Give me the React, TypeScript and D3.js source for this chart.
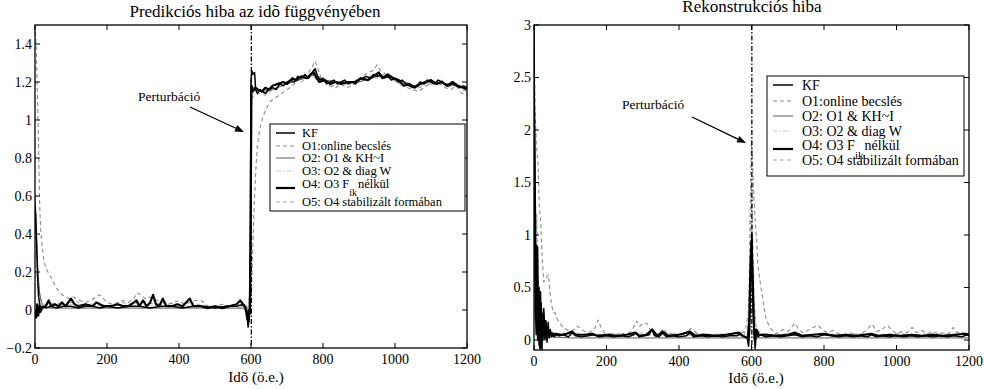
import React from "react";
import * as d3 from "d3";

type P = [number, number];

// ---------- Left panel: prediction error ----------
const leftKF: P[] = [[0,0.55],[2,0.5],[4,0.38],[6,0.25],[8,0.14],[10,0.07],[13,0.03],[16,0.01],[20,0.02],[30,0.01],[45,0.02],[60,0.01],[80,0.02],[100,0.02],[120,0.01],[140,0.02],[160,0.02],[180,0.01],[200,0.02],[230,0.01],[260,0.02],[290,0.02],[320,0.01],[350,0.02],[380,0.02],[410,0.01],[440,0.02],[470,0.02],[500,0.01],[530,0.02],[560,0.02],[580,0.03],[588,0.0],[592,-0.09],[595,-0.05],[598,0.3],[600,1.2],[602,1.26],[606,1.24],[610,1.25],[613,1.16],[618,1.14],[625,1.16],[632,1.15],[640,1.14],[650,1.16],[660,1.17],[670,1.16],[680,1.19],[690,1.18],[700,1.2],[710,1.21],[720,1.2],[730,1.23],[740,1.22],[750,1.24],[760,1.22],[770,1.25],[778,1.27],[785,1.23],[792,1.21],[800,1.22],[810,1.19],[820,1.2],[830,1.21],[840,1.19],[850,1.2],[860,1.21],[870,1.19],[880,1.2],[890,1.19],[900,1.21],[910,1.22],[920,1.23],[930,1.22],[940,1.24],[950,1.23],[960,1.24],[970,1.22],[980,1.23],[990,1.21],[1000,1.22],[1010,1.2],[1020,1.21],[1030,1.19],[1040,1.18],[1050,1.17],[1060,1.18],[1070,1.2],[1080,1.19],[1090,1.21],[1100,1.2],[1110,1.19],[1120,1.21],[1130,1.2],[1140,1.19],[1150,1.18],[1160,1.19],[1170,1.18],[1180,1.17],[1190,1.18],[1200,1.17]];
const leftO1: P[] = [[0,1.5],[3,1.4],[6,1.2],[9,0.95],[11,0.75],[13,0.55],[16,0.42],[20,0.33],[25,0.26],[30,0.22],[36,0.2],[42,0.18],[50,0.15],[58,0.12],[66,0.1],[75,0.08],[85,0.07],[95,0.06],[105,0.07],[115,0.06],[125,0.05],[140,0.04],[155,0.05],[170,0.07],[180,0.08],[190,0.06],[200,0.04],[215,0.03],[230,0.04],[245,0.05],[260,0.04],[275,0.06],[283,0.09],[295,0.08],[305,0.06],[315,0.07],[328,0.06],[340,0.05],[355,0.04],[370,0.03],[385,0.04],[400,0.05],[415,0.03],[430,0.04],[445,0.05],[460,0.05],[470,0.04],[480,0.02],[500,0.02],[520,0.03],[540,0.02],[560,0.03],[575,0.02],[585,0.03],[592,0.0],[598,0.01],[601,0.08],[604,0.25],[607,0.45],[610,0.6],[614,0.76],[618,0.87],[624,0.95],[632,1.01],[642,1.06],[655,1.1],[670,1.12],[685,1.14],[700,1.16],[715,1.18],[730,1.21],[745,1.22],[760,1.25],[770,1.28],[778,1.31],[786,1.27],[795,1.22],[805,1.2],[820,1.18],[835,1.17],[850,1.19],[865,1.17],[880,1.18],[895,1.2],[910,1.23],[925,1.25],[940,1.26],[950,1.29],[960,1.26],[975,1.24],[990,1.23],[1005,1.2],[1020,1.18],[1035,1.17],[1050,1.16],[1065,1.15],[1080,1.17],[1095,1.19],[1110,1.2],[1125,1.19],[1140,1.17],[1155,1.16],[1170,1.18],[1185,1.14],[1200,1.13]];
const leftO2: P[] = [[0,0.6],[3,0.45],[6,0.3],[9,0.18],[13,0.09],[18,0.04],[25,0.02],[40,0.01],[100,0.01],[200,0.01],[300,0.01],[400,0.01],[500,0.01],[580,0.01],[590,-0.02],[595,-0.06],[598,0.2],[600,1.0],[603,1.18],[610,1.16],[630,1.15],[660,1.16],[700,1.19],[750,1.22],[780,1.24],[800,1.21],[850,1.2],[900,1.2],[950,1.23],[1000,1.22],[1050,1.18],[1100,1.2],[1150,1.19],[1200,1.17]];
const leftO3: P[] = [[0,0.3],[5,0.15],[10,0.06],[20,0.02],[50,0.02],[100,0.03],[150,0.02],[200,0.02],[250,0.03],[300,0.02],[350,0.03],[400,0.02],[450,0.02],[500,0.02],[550,0.02],[590,0.0],[598,0.1],[602,1.1],[610,1.15],[650,1.16],[700,1.19],[750,1.23],[800,1.22],[850,1.19],[900,1.21],[950,1.24],[1000,1.21],[1050,1.17],[1100,1.19],[1150,1.18],[1200,1.16]];
const leftO4: P[] = [[0,0.0],[3,-0.04],[6,0.03],[9,-0.03],[12,0.02],[15,-0.01],[20,0.01],[30,0.02],[38,0.05],[45,0.02],[55,0.03],[65,0.02],[75,0.04],[85,0.02],[100,0.06],[110,0.03],[120,0.02],[140,0.03],[160,0.02],[170,0.04],[180,0.03],[190,0.02],[210,0.02],[230,0.03],[245,0.02],[260,0.02],[275,0.04],[282,0.05],[290,0.02],[300,0.05],[310,0.02],[320,0.04],[328,0.08],[336,0.03],[345,0.02],[355,0.06],[365,0.02],[380,0.02],[395,0.03],[410,0.02],[430,0.06],[440,0.02],[460,0.02],[480,0.01],[500,0.02],[520,0.01],[540,0.02],[560,0.03],[570,0.05],[578,0.03],[585,0.01],[590,-0.05],[594,0.0],[597,-0.02],[599,0.4],[601,1.18],[605,1.15],[612,1.17],[620,1.16],[630,1.15],[640,1.17],[650,1.16],[660,1.18],[675,1.19],[690,1.2],[700,1.19],[715,1.22],[725,1.21],[740,1.23],[755,1.22],[765,1.24],[775,1.25],[782,1.22],[790,1.2],[805,1.21],[820,1.19],[835,1.2],[850,1.19],[870,1.2],[890,1.2],[905,1.22],[925,1.21],[940,1.23],[955,1.25],[965,1.22],[980,1.24],[995,1.22],[1010,1.21],[1025,1.18],[1040,1.19],[1055,1.17],[1070,1.19],[1085,1.2],[1100,1.21],[1115,1.19],[1130,1.2],[1145,1.18],[1160,1.2],[1175,1.18],[1190,1.17],[1200,1.16]];
const leftO5: P[] = [[0,0.5],[4,0.3],[8,0.15],[14,0.06],[22,0.03],[40,0.03],[60,0.04],[80,0.02],[110,0.05],[140,0.02],[170,0.04],[200,0.02],[240,0.04],[270,0.03],[300,0.05],[330,0.03],[360,0.04],[400,0.03],[430,0.04],[470,0.02],[520,0.02],[560,0.03],[585,0.02],[592,-0.04],[597,0.0],[600,0.6],[603,1.12],[610,1.13],[625,1.14],[640,1.13],[660,1.16],[680,1.18],[700,1.19],[720,1.21],[740,1.2],[760,1.23],[775,1.24],[790,1.22],[810,1.2],[830,1.18],[850,1.2],[870,1.18],[890,1.21],[910,1.21],[930,1.23],[950,1.22],[970,1.24],[990,1.22],[1010,1.19],[1030,1.2],[1050,1.18],[1070,1.17],[1090,1.2],[1110,1.18],[1130,1.21],[1150,1.17],[1170,1.19],[1185,1.16],[1200,1.15]];

// ---------- Right panel: reconstruction error ----------
const rightKF: P[] = [[0,3.0],[2,1.6],[4,0.3],[6,0.05],[8,0.4],[10,0.88],[12,0.2],[14,-0.05],[16,0.3],[18,0.46],[20,0.05],[22,-0.1],[24,0.2],[27,0.3],[30,0.0],[33,0.15],[36,-0.02],[39,0.17],[42,0.02],[45,0.1],[48,0.03],[52,0.07],[56,0.03],[60,0.05],[70,0.04],[80,0.05],[95,0.03],[105,0.07],[115,0.04],[130,0.03],[150,0.04],[165,0.05],[180,0.03],[200,0.04],[220,0.03],[240,0.04],[260,0.03],[275,0.05],[282,0.07],[290,0.03],[305,0.04],[318,0.05],[325,0.1],[333,0.04],[345,0.03],[355,0.07],[365,0.03],[380,0.04],[400,0.03],[420,0.04],[430,0.07],[440,0.03],[460,0.04],[480,0.03],[500,0.04],[520,0.03],[540,0.04],[560,0.04],[570,0.06],[580,0.03],[588,0.02],[592,-0.06],[595,0.1],[598,0.6],[601,1.02],[604,0.5],[607,0.1],[610,-0.08],[614,0.08],[618,0.03],[625,0.05],[640,0.03],[660,0.04],[680,0.03],[700,0.04],[720,0.05],[740,0.03],[760,0.04],[780,0.03],[800,0.05],[820,0.04],[840,0.03],[860,0.04],[880,0.03],[900,0.04],[920,0.03],[930,0.05],[945,0.03],[960,0.04],[980,0.03],[1000,0.04],[1020,0.03],[1040,0.04],[1060,0.03],[1080,0.04],[1100,0.03],[1120,0.04],[1140,0.03],[1160,0.04],[1180,0.03],[1195,0.05],[1200,0.04]];
const rightO1: P[] = [[0,2.9],[3,2.2],[6,1.9],[9,1.75],[11,1.7],[13,1.45],[15,1.25],[18,1.16],[21,0.9],[24,0.7],[27,0.55],[31,0.58],[35,0.6],[40,0.62],[44,0.45],[48,0.35],[53,0.26],[58,0.26],[64,0.2],[72,0.16],[80,0.12],[90,0.1],[100,0.08],[110,0.1],[120,0.13],[130,0.11],[140,0.08],[150,0.07],[165,0.09],[177,0.19],[185,0.12],[195,0.07],[210,0.06],[225,0.05],[240,0.07],[255,0.05],[270,0.09],[283,0.18],[292,0.13],[300,0.16],[311,0.16],[320,0.1],[330,0.07],[345,0.06],[357,0.11],[365,0.07],[380,0.06],[395,0.05],[410,0.07],[420,0.06],[432,0.11],[440,0.09],[455,0.05],[470,0.06],[490,0.05],[510,0.06],[530,0.05],[550,0.07],[565,0.06],[580,0.08],[590,0.05],[594,0.6],[597,1.4],[600,1.9],[603,1.7],[606,1.4],[610,1.15],[614,0.95],[618,0.7],[622,0.6],[626,0.5],[630,0.42],[635,0.3],[640,0.2],[648,0.14],[655,0.1],[665,0.06],[675,0.07],[687,0.1],[700,0.08],[710,0.12],[720,0.16],[730,0.1],[742,0.07],[755,0.09],[770,0.12],[784,0.14],[795,0.1],[810,0.07],[825,0.09],[840,0.06],[855,0.05],[870,0.07],[885,0.06],[900,0.05],[915,0.09],[933,0.15],[945,0.08],[960,0.1],[975,0.14],[988,0.09],[1000,0.06],[1015,0.08],[1030,0.07],[1043,0.12],[1055,0.07],[1070,0.09],[1085,0.06],[1100,0.08],[1115,0.06],[1130,0.07],[1145,0.06],[1156,0.12],[1168,0.07],[1180,0.08],[1192,0.05],[1200,0.07]];
const rightO2: P[] = [[0,2.8],[3,1.0],[6,0.3],[10,0.6],[14,0.1],[18,0.3],[22,0.05],[28,0.12],[35,0.03],[45,0.03],[100,0.02],[200,0.02],[300,0.02],[400,0.02],[500,0.02],[590,0.02],[596,0.3],[600,0.85],[604,0.3],[608,0.02],[640,0.02],[800,0.02],[1000,0.02],[1200,0.02]];
const rightO3: P[] = [[0,2.5],[4,1.2],[8,0.5],[14,0.2],[22,0.08],[35,0.05],[60,0.04],[120,0.05],[200,0.04],[300,0.05],[400,0.04],[500,0.05],[590,0.04],[596,0.5],[600,1.3],[605,0.6],[612,0.15],[625,0.06],[700,0.05],[800,0.05],[900,0.04],[1000,0.05],[1100,0.04],[1200,0.05]];
const rightO4: P[] = [[0,2.2],[3,1.2],[5,0.2],[7,0.9],[9,0.3],[11,0.0],[13,0.5],[15,0.1],[17,-0.08],[19,0.35],[21,0.1],[24,0.0],[26,0.25],[29,0.05],[32,0.18],[35,0.02],[38,0.12],[41,0.04],[44,0.08],[50,0.04],[60,0.06],[75,0.05],[90,0.06],[105,0.08],[115,0.05],[140,0.05],[160,0.06],[175,0.04],[200,0.05],[230,0.04],[255,0.05],[280,0.07],[290,0.04],[310,0.05],[326,0.1],[340,0.04],[355,0.08],[370,0.04],[400,0.05],[430,0.08],[445,0.04],[470,0.05],[500,0.04],[530,0.05],[565,0.07],[575,0.04],[590,0.02],[594,0.2],[597,0.7],[600,0.95],[603,0.6],[606,0.2],[609,0.0],[613,0.1],[620,0.05],[640,0.05],[670,0.04],[700,0.05],[720,0.07],[740,0.04],[770,0.05],[800,0.06],[830,0.04],[860,0.05],[890,0.04],[930,0.06],[950,0.04],[980,0.05],[1010,0.04],[1040,0.05],[1070,0.04],[1100,0.05],[1130,0.04],[1160,0.05],[1190,0.06],[1200,0.05]];
const rightO5: P[] = [[0,1.5],[4,0.8],[8,1.2],[12,0.5],[16,0.3],[20,0.2],[25,0.12],[32,0.08],[40,0.06],[60,0.05],[90,0.06],[110,0.07],[130,0.05],[160,0.06],[190,0.05],[220,0.06],[260,0.05],[300,0.07],[340,0.05],[380,0.06],[420,0.05],[460,0.06],[500,0.05],[540,0.06],[580,0.05],[594,0.3],[598,1.2],[601,1.5],[604,0.9],[608,0.3],[614,0.1],[625,0.06],[660,0.05],[700,0.06],[750,0.05],[800,0.06],[850,0.05],[900,0.06],[950,0.05],[1000,0.06],[1050,0.05],[1100,0.06],[1150,0.05],[1200,0.06]];

const xTicks = [0, 200, 400, 600, 800, 1000, 1200];
const leftYTicks = [-0.2, 0, 0.2, 0.4, 0.6, 0.8, 1, 1.2, 1.4];
const rightYTicks = [0, 0.5, 1, 1.5, 2, 2.5, 3];
const legendLabels = ["KF", "O1:online becslés", "O2: O1 & KH~I", "O3: O2 & diag W", "O4: O3 F", "O5: O4 stabilizált formában"];
const perturbTime = 601;

const FONT = "Liberation Serif, Times New Roman, DejaVu Serif, serif";

type Style = { stroke: string; width: number; dash?: string };
const styles: Style[] = [
  { stroke: "#000", width: 1.5 },
  { stroke: "#8c8c8c", width: 1.1, dash: "4,3" },
  { stroke: "#333", width: 0.8 },
  { stroke: "#c4c4c4", width: 0.9, dash: "5,2,1,2" },
  { stroke: "#000", width: 2.2 },
  { stroke: "#a8a8a8", width: 1.1, dash: "4,3" },
];
const drawOrder = [3, 5, 1, 2, 4, 0];

type PanelProps = {
  id: string;
  x0: number; x1: number; y0: number; y1: number;
  yDomain: [number, number];
  yTicks: number[];
  series: P[][];
  title: string; titleX: number; titleY: number;
  xLabelX: number; xLabelY: number;
  legend: { x: number; y: number; w: number; h: number; rows: number[]; fs: number; lx0: number; lx1: number; tx: number; subDy: number };
  annot: { tx: number; ty: number; fs: number; ax0: number; ay0: number; ax1: number; ay1: number };
};

function fmt(v: number) {
  const s = String(Math.round(v * 10) / 10);
  return s.replace("-", "\u2212");
}

function Panel(p: PanelProps) {
  const x = d3.scaleLinear().domain([0, 1200]).range([p.x0, p.x1]);
  const y = d3.scaleLinear().domain(p.yDomain).range([p.y1, p.y0]);
  const line = d3.line<P>().x((d) => x(d[0])).y((d) => y(d[1]));
  const tl = 5;
  const lg = p.legend;
  const a = p.annot;
  const ang = Math.atan2(a.ay1 - a.ay0, a.ax1 - a.ax0);
  const hl = 9, hw = 3.5;
  const hx = a.ax1 - hl * Math.cos(ang), hy = a.ay1 - hl * Math.sin(ang);
  const head = `${a.ax1},${a.ay1} ${hx - hw * Math.sin(ang)},${hy + hw * Math.cos(ang)} ${hx + hw * Math.sin(ang)},${hy - hw * Math.cos(ang)}`;
  const tStyle = { fontFamily: FONT };
  return (
    <g style={tStyle}>
      <defs>
        <clipPath id={p.id}>
          <rect x={p.x0} y={p.y0} width={p.x1 - p.x0} height={p.y1 - p.y0} />
        </clipPath>
      </defs>
      <text x={p.titleX} y={p.titleY} fontSize={17} textAnchor="middle" style={tStyle}>{p.title}</text>
      <g clipPath={`url(#${p.id})`}>
        {drawOrder.map((i) => (
          <path key={i} d={line(p.series[i]) || ""} fill="none" stroke={styles[i].stroke}
            strokeWidth={styles[i].width} strokeDasharray={styles[i].dash} strokeLinejoin="round" />
        ))}
      </g>
      <line x1={x(perturbTime)} x2={x(perturbTime)} y1={p.y0} y2={p.y1} stroke="#000" strokeWidth={1.3} strokeDasharray="5,2,1.5,2" />
      {xTicks.map((t) => (
        <g key={"xt" + t}>
          <line x1={x(t)} x2={x(t)} y1={p.y1} y2={p.y1 - tl} stroke="#000" />
          <line x1={x(t)} x2={x(t)} y1={p.y0} y2={p.y0 + tl} stroke="#000" />
          <text x={x(t)} y={p.y1 + 16} fontSize={14} textAnchor="middle" style={tStyle}>{t}</text>
        </g>
      ))}
      {p.yTicks.map((t) => (
        <g key={"yt" + t}>
          <line x1={p.x0} x2={p.x0 + tl} y1={y(t)} y2={y(t)} stroke="#000" />
          <line x1={p.x1} x2={p.x1 - tl} y1={y(t)} y2={y(t)} stroke="#000" />
          <text x={p.x0 - 3} y={y(t) + 4.5} fontSize={14} textAnchor="end" style={tStyle}>{fmt(t)}</text>
        </g>
      ))}
      <rect x={p.x0} y={p.y0} width={p.x1 - p.x0} height={p.y1 - p.y0} fill="none" stroke="#000" strokeWidth={1.3} />
      <text x={p.xLabelX} y={p.xLabelY} fontSize={15} textAnchor="middle" style={tStyle}>Idõ (ö.e.)</text>
      <text x={a.tx} y={a.ty} fontSize={a.fs} style={tStyle}>Perturbáció</text>
      <line x1={a.ax0} y1={a.ay0} x2={hx} y2={hy} stroke="#000" strokeWidth={1.3} />
      <polygon points={head} fill="#000" />
      <rect x={lg.x} y={lg.y} width={lg.w} height={lg.h} fill="#fff" stroke="#000" strokeWidth={1} />
      {legendLabels.map((lab, i) => {
        const ry = lg.rows[i];
        const ly = i === 4 ? ry + 4 : ry;
        return (
          <g key={"lg" + i}>
            <line x1={lg.lx0} x2={lg.lx1} y1={ly} y2={ly} stroke={styles[i].stroke}
              strokeWidth={styles[i].width} strokeDasharray={styles[i].dash} />
            <text x={lg.tx} y={ry + lg.fs * 0.35} fontSize={lg.fs} style={tStyle}>
              {lab}
              {i === 4 ? (
                <>
                  <tspan fontSize={lg.fs * 0.8} dy={lg.subDy}>ik</tspan>
                  <tspan dy={-lg.subDy} dx={1}>nélkül</tspan>
                </>
              ) : null}
            </text>
          </g>
        );
      })}
    </g>
  );
}

export default function App() {
  return (
    <svg width={984} height={389} style={{ position: "absolute", left: 0, top: 0, background: "#fff", fontFamily: FONT }}>
      <rect width={984} height={389} fill="#fff" />
      <Panel
        id="clipL"
        x0={35} x1={467} y0={25} y1={348}
        yDomain={[-0.2, 1.5]} yTicks={leftYTicks}
        series={[leftKF, leftO1, leftO2, leftO3, leftO4, leftO5]}
        title="Predikciós hiba az idõ függvényében" titleX={255} titleY={17}
        xLabelX={256} xLabelY={382}
        legend={{ x: 270, y: 124, w: 195, h: 87, rows: [133, 146, 158, 171, 184, 202], fs: 12.5, lx0: 276, lx1: 295, tx: 302, subDy: 8 }}
        annot={{ tx: 138, ty: 101, fs: 13.5, ax0: 190, ay0: 107, ax1: 244, ay1: 132 }}
      />
      <Panel
        id="clipR"
        x0={534} x1={969} y0={25} y1={350}
        yDomain={[-0.095, 3]} yTicks={rightYTicks}
        series={[rightKF, rightO1, rightO2, rightO3, rightO4, rightO5]}
        title="Rekonstrukciós hiba" titleX={752} titleY={12}
        xLabelX={756} xLabelY={383}
        legend={{ x: 767, y: 76, w: 197, h: 100, rows: [85, 101, 116, 131, 145, 160], fs: 14, lx0: 773, lx1: 793, tx: 802, subDy: 9 }}
        annot={{ tx: 622, ty: 109, fs: 13.5, ax0: 692, ay0: 117, ax1: 746, ay1: 143 }}
      />
    </svg>
  );
}
